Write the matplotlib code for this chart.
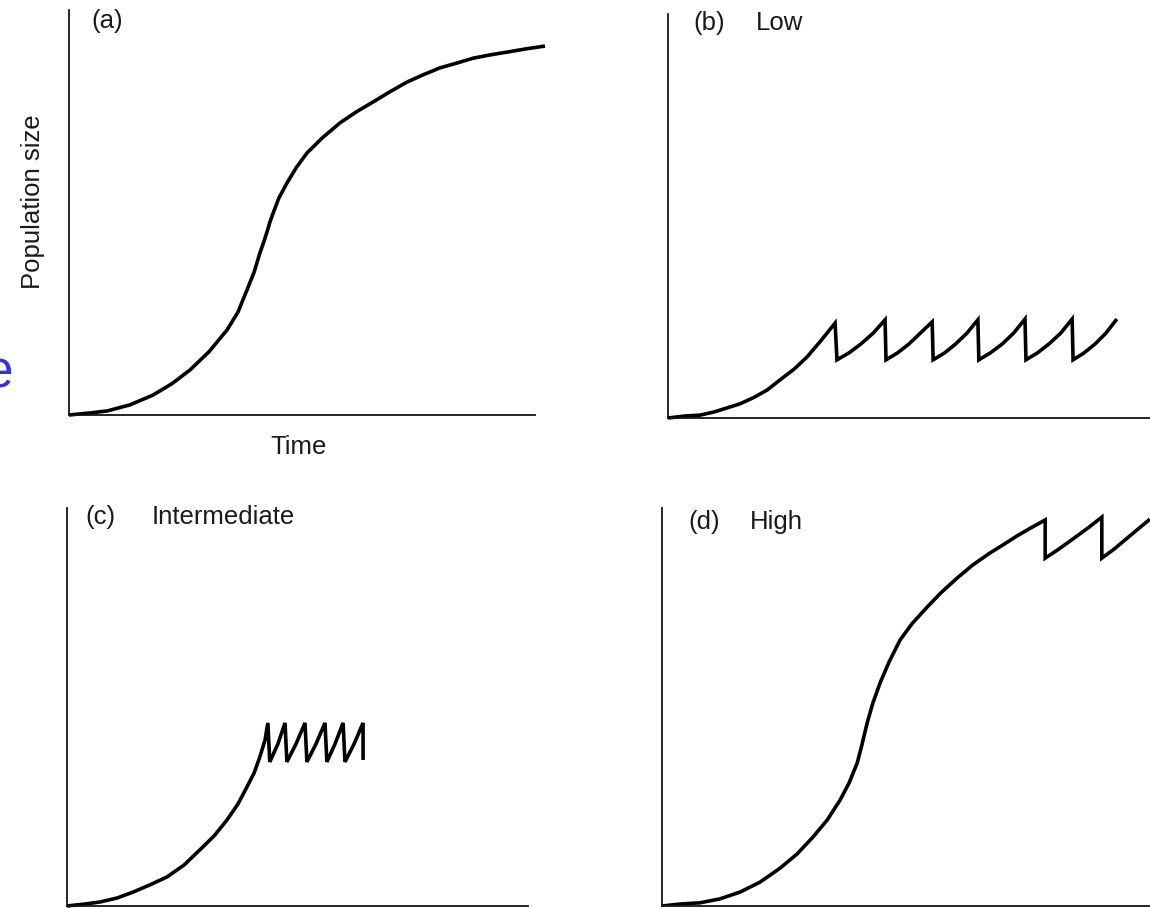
import matplotlib
matplotlib.use("Agg")
import matplotlib.pyplot as plt

plt.rcParams['font.family'] = ['Liberation Sans', 'DejaVu Sans']

W, H = 1150, 908

# ---- data (time, population size), arbitrary units ----
# (a) logistic growth, no harvest
time_a = [0, 4.4, 8.0, 12.8, 17.6, 21.6, 25.4, 29.4, 33.2, 35.5, 37.4, 38.9, 40.1, 41.0, 41.6, 42.2,
          42.9, 44.1, 45.8, 47.7, 50.0, 53.2, 56.9, 60.3, 63.9, 67.4, 71.0, 74.4, 77.9, 81.5, 84.9,
          88.4, 92.0, 96.0, 100]
pop_a = [0, 0.5, 1.0, 2.5, 4.9, 7.7, 11.1, 15.6, 21.0, 25.4, 30.9, 35.3, 40.0, 43.0, 45.2, 47.6,
         49.9, 53.6, 57.3, 61.0, 64.7, 68.4, 72.1, 74.8, 77.3, 79.8, 82.2, 84.0, 85.7, 86.9, 88.1,
         88.9, 89.6, 90.4, 91.1]

# (b) Low harvest threshold
time_b = [0, 3.6, 6.7, 9.7, 12.4, 15.1, 17.9, 20.8, 23.5, 26.5, 29.2, 32.1, 35.1,
          35.5, 38.0, 40.5, 43.1, 45.6,
          45.8, 48.2, 50.6, 53.0, 55.5,
          55.7, 58.1, 60.4, 62.8, 65.1,
          65.3, 67.7, 70.2, 72.6, 75.0,
          75.2, 77.6, 80.0, 82.5, 84.9,
          85.1, 87.4, 89.7, 92.0, 94.3]
pop_b = [0, 0.5, 0.7, 1.5, 2.5, 3.5, 5.0, 6.9, 9.4, 12.1, 15.1, 19.1, 23.5,
         14.4, 16.1, 18.3, 21.0, 24.3,
         14.4, 16.1, 18.3, 21.0, 23.8,
         14.4, 16.1, 18.3, 21.0, 24.3,
         14.4, 16.1, 18.3, 21.0, 24.5,
         14.4, 16.1, 18.3, 21.0, 24.5,
         14.4, 16.1, 18.3, 21.0, 24.5]

# (c) Intermediate harvest threshold
time_c = [0, 3.8, 6.9, 10.5, 13.9, 17.4, 21.0, 24.6, 27.9, 30.9, 33.6, 35.9, 37.8, 39.3, 40.5, 41.6, 42.2,
          42.6, 44.3, 45.8,
          46.2, 48.1, 50.0,
          50.4, 52.3, 54.2,
          54.6, 56.3, 58.0,
          58.4, 60.3, 62.2, 62.2]
pop_c = [0, 0.5, 1.0, 2.0, 3.5, 5.3, 7.3, 10.3, 14.1, 17.6, 21.6, 25.6, 29.9, 33.4, 37.4, 41.7, 46.0,
         36.2, 40.7, 46.0,
         36.2, 40.7, 46.0,
         36.2, 40.7, 46.0,
         36.2, 40.7, 46.0,
         36.2, 40.7, 46.0, 36.7]

# (d) High harvest threshold
time_d = [0, 3.8, 8.0, 12.2, 16.4, 20.6, 24.8, 28.4, 31.7, 34.7, 37.4, 39.3, 41.0, 42.0, 43.1, 44.3,
          45.8, 47.7, 50.0, 52.5, 55.7, 58.6, 62.0, 65.3, 68.9, 71.6, 74.6, 77.5, 80.5,
          80.5, 83.4, 86.3, 89.5, 92.4,
          92.4, 95.0, 97.5, 100.0, 102.5]
pop_d = [0, 0.5, 0.8, 1.8, 3.5, 6.0, 9.5, 13.1, 17.3, 21.6, 26.6, 30.9, 35.9, 40.5, 46.0, 51.0,
         56.0, 61.3, 66.8, 70.9, 75.1, 78.7, 82.4, 85.7, 88.7, 90.7, 93.0, 95.0, 97.0,
         87.4, 89.7, 92.2, 95.0, 97.7,
         87.4, 89.7, 92.2, 94.7, 97.2]

panel_tags = ["(a)", "(b)", "(c)", "(d)"]
panel_titles = ["", "Low", "Intermediate", "High"]
xlabel = "Time"
ylabel = "Population size"

fig = plt.figure(figsize=(W / 100, H / 100), dpi=100)
fig.patch.set_facecolor("white")

PX_PER_UNIT = 4.76


def make_axes(left, bottom, top, width, spine_end=None):
    ax = fig.add_axes([left / W, 1 - bottom / H, width / W, (bottom - top) / H])
    ax.set_xlim(0, width / PX_PER_UNIT)
    ax.set_ylim(0, 100)
    for s in ("top", "right"):
        ax.spines[s].set_visible(False)
    for s in ("left", "bottom"):
        ax.spines[s].set_linewidth(1.3)
        ax.spines[s].set_color("#151515")
    if spine_end is not None:
        ax.spines["bottom"].set_bounds(0, (spine_end - left) / PX_PER_UNIT)
    ax.set_xticks([])
    ax.set_yticks([])
    ax.patch.set_alpha(0)
    return ax


ax_a = make_axes(69, 415, 10, 476, spine_end=535)
ax_b = make_axes(668, 418, 14, 490)
ax_c = make_axes(67, 906, 508, 476, spine_end=528)
ax_d = make_axes(662, 906, 508, 490)

lw = 2.6
kw = dict(color="black", lw=lw, solid_joinstyle="miter", solid_capstyle="butt")
ax_a.plot(time_a, pop_a, clip_on=False, **kw)
ax_b.plot(time_b, pop_b, clip_on=False, **kw)
ax_c.plot(time_c, pop_c, clip_on=False, **kw)
ax_d.plot(time_d, pop_d, clip_on=True, **kw)

fs = 18.5
tag_pos = [(91, 9), (693, 11), (85, 505), (688, 510)]
title_pos = [None, (756, 11), (152, 505), (750, 510)]
for i in range(4):
    x, y = tag_pos[i]
    fig.text(x / W, 1 - y / H, panel_tags[i], fontsize=fs, va="top", ha="left", color="#1a1a1a")
    if title_pos[i] is not None:
        x, y = title_pos[i]
        fig.text(x / W, 1 - y / H, panel_titles[i], fontsize=fs, va="top", ha="left", color="#1a1a1a")

fig.text(299 / W, 1 - 447 / H, xlabel, fontsize=fs, va="center", ha="center", color="#1a1a1a")
fig.text(33 / W, 1 - 202 / H, ylabel, fontsize=fs, va="center", ha="center", rotation=90, color="#1a1a1a")

# blue letter at the left edge, partly cut off as in the reference
fig.text(13 / W, 1 - 388 / H, "e", fontsize=37, va="baseline", ha="right", color="#3333d6")

fig.savefig("out.png", dpi=100, facecolor="white")
